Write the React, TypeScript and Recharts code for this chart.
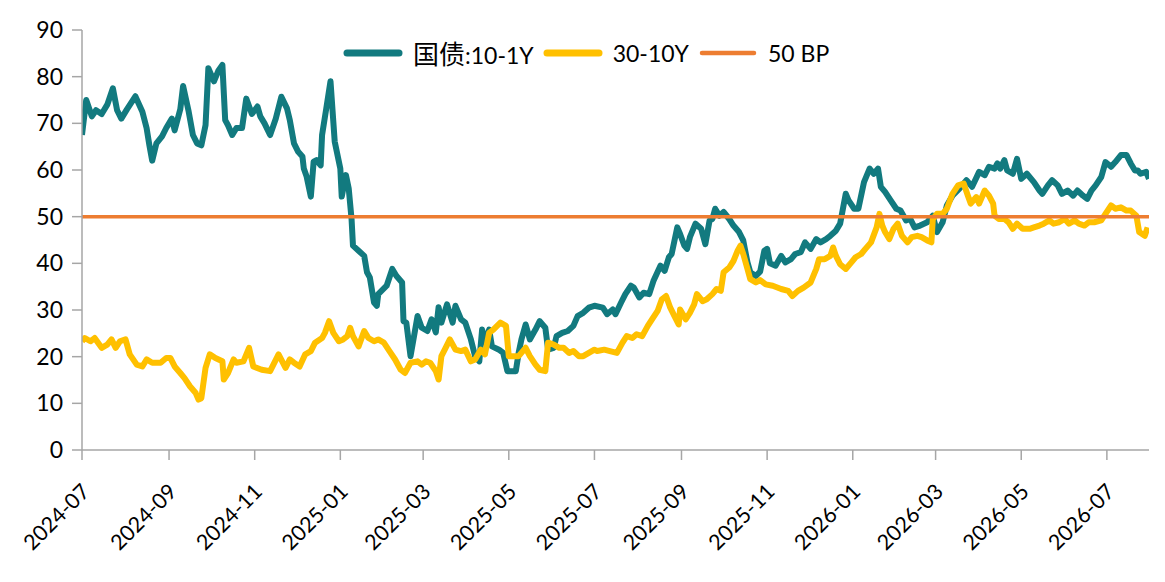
import React from "react";
import { LineChart, Line, XAxis, YAxis, Legend, ReferenceLine } from "recharts";

// 国债期限利差 (BP), values
const spread101: [string, number][] = [
  ["2024-07-01", 67.5], ["2024-07-04", 75], ["2024-07-08", 71.5], ["2024-07-11", 72.8], ["2024-07-15", 72],
  ["2024-07-19", 74], ["2024-07-23", 77.5], ["2024-07-26", 72.8], ["2024-07-29", 71], ["2024-08-02", 73],
  ["2024-08-08", 75.8], ["2024-08-13", 72.5], ["2024-08-16", 69], ["2024-08-18", 65.3], ["2024-08-20", 62],
  ["2024-08-23", 65.7], ["2024-08-27", 67.2], ["2024-08-30", 69], ["2024-09-03", 71], ["2024-09-05", 68.5],
  ["2024-09-09", 73], ["2024-09-11", 78], ["2024-09-15", 72.5], ["2024-09-18", 67.5], ["2024-09-21", 65.7],
  ["2024-09-24", 65.3], ["2024-09-27", 69.6], ["2024-09-29", 81.8], ["2024-10-03", 79], ["2024-10-06", 81.2],
  ["2024-10-09", 82.5], ["2024-10-11", 70.7], ["2024-10-13", 69.6], ["2024-10-16", 67.5], ["2024-10-19", 69],
  ["2024-10-23", 69], ["2024-10-26", 75.3], ["2024-10-30", 72], ["2024-11-03", 73.6], ["2024-11-05", 71.5],
  ["2024-11-08", 70], ["2024-11-12", 67.5], ["2024-11-16", 71], ["2024-11-20", 75.7], ["2024-11-24", 73.2],
  ["2024-11-26", 70.7], ["2024-11-29", 65.7], ["2024-12-02", 63.9], ["2024-12-05", 62.9], ["2024-12-06", 60.3],
  ["2024-12-08", 58.6], ["2024-12-11", 54.3], ["2024-12-13", 61.8], ["2024-12-15", 62.1], ["2024-12-18", 61],
  ["2024-12-19", 67.5], ["2024-12-22", 73.2], ["2024-12-25", 79], ["2024-12-28", 66.1], ["2025-01-01", 60.3],
  ["2025-01-02", 54.3], ["2025-01-05", 58.9], ["2025-01-07", 56], ["2025-01-09", 49.5], ["2025-01-10", 43.8],
  ["2025-01-14", 42.7], ["2025-01-18", 41.6], ["2025-01-20", 38.1], ["2025-01-22", 37], ["2025-01-25", 31.6],
  ["2025-01-27", 30.9], ["2025-01-28", 33.4], ["2025-02-03", 35.2], ["2025-02-07", 38.8], ["2025-02-10", 37.3],
  ["2025-02-14", 35.9], ["2025-02-15", 27.6], ["2025-02-17", 27.3], ["2025-02-20", 20.1], ["2025-02-25", 28.7],
  ["2025-02-28", 26.2], ["2025-03-04", 25.5], ["2025-03-07", 28], ["2025-03-10", 25.2], ["2025-03-12", 30.6],
  ["2025-03-14", 27.3], ["2025-03-18", 31.2], ["2025-03-22", 27.3], ["2025-03-24", 30.9], ["2025-03-28", 28],
  ["2025-03-31", 27.3], ["2025-04-04", 23.7], ["2025-04-07", 20.1], ["2025-04-10", 19], ["2025-04-12", 25.8],
  ["2025-04-14", 23], ["2025-04-17", 25.8], ["2025-04-19", 22.2], ["2025-04-24", 21.5], ["2025-04-27", 20.8],
  ["2025-04-30", 16.9], ["2025-05-06", 16.9], ["2025-05-08", 20.8], ["2025-05-10", 23.7], ["2025-05-13", 26.9],
  ["2025-05-16", 23.7], ["2025-05-20", 25.8], ["2025-05-23", 27.6], ["2025-05-27", 26.2], ["2025-05-29", 21.5],
  ["2025-06-02", 21.9], ["2025-06-04", 24.4], ["2025-06-08", 25.1], ["2025-06-12", 25.5], ["2025-06-16", 26.6],
  ["2025-06-19", 28.7], ["2025-06-23", 29.4], ["2025-06-27", 30.5], ["2025-07-01", 30.9], ["2025-07-07", 30.5],
  ["2025-07-10", 29.1], ["2025-07-14", 30.1], ["2025-07-16", 29.1], ["2025-07-20", 31.6], ["2025-07-23", 33.4],
  ["2025-07-27", 35.2], ["2025-07-29", 34.8], ["2025-08-02", 32.7], ["2025-08-05", 33.7], ["2025-08-09", 33.4],
  ["2025-08-12", 36.2], ["2025-08-17", 39.5], ["2025-08-20", 38.4], ["2025-08-23", 41.3], ["2025-08-25", 42],
  ["2025-08-29", 47.7], ["2025-08-31", 46.3], ["2025-09-03", 43.8], ["2025-09-05", 43.1], ["2025-09-07", 45.6],
  ["2025-09-11", 48.5], ["2025-09-15", 47.4], ["2025-09-18", 44.1], ["2025-09-21", 49.2], ["2025-09-23", 49.5],
  ["2025-09-25", 51.7], ["2025-09-28", 50.2], ["2025-10-01", 51], ["2025-10-05", 49.5], ["2025-10-08", 48.1],
  ["2025-10-12", 46.7], ["2025-10-15", 44.9], ["2025-10-18", 40.2], ["2025-10-20", 38.1], ["2025-10-24", 37.3],
  ["2025-10-27", 38.2], ["2025-10-30", 42.7], ["2025-11-01", 43.1], ["2025-11-03", 40], ["2025-11-07", 39.5],
  ["2025-11-11", 41.6], ["2025-11-14", 40.2], ["2025-11-18", 40.9], ["2025-11-21", 42], ["2025-11-25", 42.4],
  ["2025-11-28", 44.5], ["2025-12-02", 43.1], ["2025-12-06", 45.2], ["2025-12-09", 44.5], ["2025-12-13", 45.2],
  ["2025-12-16", 45.9], ["2025-12-20", 47], ["2025-12-23", 48.5], ["2025-12-27", 54.9], ["2025-12-29", 53.5],
  ["2026-01-02", 51.7], ["2026-01-05", 51.7], ["2026-01-09", 57.4], ["2026-01-13", 60.3], ["2026-01-16", 59.2],
  ["2026-01-19", 60.3], ["2026-01-21", 56.4], ["2026-01-24", 55.3], ["2026-01-28", 53.5], ["2026-02-01", 51.7],
  ["2026-02-04", 51.3], ["2026-02-08", 49.2], ["2026-02-11", 49.5], ["2026-02-14", 47.7], ["2026-02-18", 48.1],
  ["2026-02-23", 48.8], ["2026-02-27", 50.2], ["2026-03-02", 46.7], ["2026-03-06", 48.8], ["2026-03-09", 52.4],
  ["2026-03-13", 54.5], ["2026-03-18", 56], ["2026-03-23", 57.8], ["2026-03-27", 56.4], ["2026-04-01", 59.6],
  ["2026-04-05", 58.9], ["2026-04-08", 60.7], ["2026-04-12", 60.3], ["2026-04-14", 61.4], ["2026-04-16", 60.3],
  ["2026-04-19", 62.1], ["2026-04-21", 59.9], ["2026-04-25", 59.2], ["2026-04-28", 62.4], ["2026-05-01", 58.1],
  ["2026-05-05", 59.2], ["2026-05-10", 57.4], ["2026-05-14", 55.6], ["2026-05-16", 54.9], ["2026-05-20", 56.7],
  ["2026-05-23", 57.8], ["2026-05-27", 56.7], ["2026-05-30", 54.9], ["2026-06-03", 55.6], ["2026-06-07", 54.5],
  ["2026-06-10", 55.6], ["2026-06-14", 54.5], ["2026-06-17", 53.8], ["2026-06-20", 55.6], ["2026-06-23", 56.7],
  ["2026-06-27", 58.5], ["2026-06-30", 61.7], ["2026-07-04", 60.7], ["2026-07-07", 61.7], ["2026-07-11", 63.2],
  ["2026-07-15", 63.2], ["2026-07-18", 61.4], ["2026-07-21", 59.9], ["2026-07-23", 59.9], ["2026-07-25", 59.2],
  ["2026-07-29", 59.6], ["2026-07-31", 58.1],
];

const spread3010: [string, number][] = [
  ["2024-07-01", 23.3], ["2024-07-03", 24], ["2024-07-07", 23.3], ["2024-07-10", 24], ["2024-07-15", 21.9],
  ["2024-07-19", 22.6], ["2024-07-22", 23.7], ["2024-07-25", 21.9], ["2024-07-28", 23.3], ["2024-08-01", 23.7],
  ["2024-08-04", 20.5], ["2024-08-09", 18.3], ["2024-08-13", 17.9], ["2024-08-16", 19.4], ["2024-08-20", 18.7],
  ["2024-08-26", 18.7], ["2024-08-30", 19.7], ["2024-09-02", 19.7], ["2024-09-05", 17.9], ["2024-09-09", 16.5],
  ["2024-09-12", 15.4], ["2024-09-16", 13.6], ["2024-09-20", 12.2], ["2024-09-22", 10.8], ["2024-09-24", 11.1],
  ["2024-09-27", 17.6], ["2024-09-30", 20.5], ["2024-10-04", 19.7], ["2024-10-09", 19], ["2024-10-10", 15.1],
  ["2024-10-13", 16.5], ["2024-10-17", 19.4], ["2024-10-19", 18.7], ["2024-10-24", 19], ["2024-10-28", 21.9],
  ["2024-10-31", 17.9], ["2024-11-06", 17.2], ["2024-11-12", 16.9], ["2024-11-18", 20.5], ["2024-11-23", 17.6],
  ["2024-11-26", 19.4], ["2024-11-29", 18.7], ["2024-12-03", 17.9], ["2024-12-07", 20.5], ["2024-12-11", 21.2],
  ["2024-12-14", 23], ["2024-12-19", 24], ["2024-12-21", 25.1], ["2024-12-24", 27.6], ["2024-12-27", 25.1],
  ["2024-12-31", 23.3], ["2025-01-03", 23.7], ["2025-01-06", 24.4], ["2025-01-08", 26.2], ["2025-01-10", 24.4],
  ["2025-01-14", 22.2], ["2025-01-18", 25.5], ["2025-01-21", 24], ["2025-01-25", 23.3], ["2025-01-28", 23.7],
  ["2025-02-01", 23], ["2025-02-05", 21.2], ["2025-02-09", 19.4], ["2025-02-13", 17.2], ["2025-02-16", 16.5],
  ["2025-02-20", 18.7], ["2025-02-25", 19], ["2025-02-28", 18.3], ["2025-03-03", 19], ["2025-03-06", 18.7],
  ["2025-03-10", 16.9], ["2025-03-12", 15.1], ["2025-03-14", 20.1], ["2025-03-17", 21.9], ["2025-03-20", 23.7],
  ["2025-03-24", 21.5], ["2025-03-28", 21.2], ["2025-03-31", 21.5], ["2025-04-04", 19], ["2025-04-07", 19.4],
  ["2025-04-11", 21.5], ["2025-04-14", 20.5], ["2025-04-17", 25.1], ["2025-04-20", 25.8], ["2025-04-25", 27.3],
  ["2025-04-29", 26.6], ["2025-05-01", 20.1], ["2025-05-05", 20.1], ["2025-05-08", 20.1], ["2025-05-13", 21.9],
  ["2025-05-16", 20.1], ["2025-05-20", 18.3], ["2025-05-23", 17.2], ["2025-05-27", 16.9], ["2025-05-29", 23],
  ["2025-06-02", 22.6], ["2025-06-06", 21.9], ["2025-06-09", 21.9], ["2025-06-13", 20.8], ["2025-06-16", 21.2],
  ["2025-06-20", 20.1], ["2025-06-23", 20.1], ["2025-06-27", 20.8], ["2025-07-01", 21.5], ["2025-07-03", 21.2],
  ["2025-07-08", 21.5], ["2025-07-12", 21.2], ["2025-07-17", 20.8], ["2025-07-21", 23], ["2025-07-24", 24.4],
  ["2025-07-28", 24], ["2025-07-31", 24.8], ["2025-08-04", 24.4], ["2025-08-08", 26.6], ["2025-08-11", 28],
  ["2025-08-15", 29.8], ["2025-08-18", 32.3], ["2025-08-21", 33], ["2025-08-24", 30.5], ["2025-08-27", 28.7],
  ["2025-08-30", 26.9], ["2025-08-31", 30.1], ["2025-09-04", 28], ["2025-09-07", 29.4], ["2025-09-10", 31.2],
  ["2025-09-12", 33.4], ["2025-09-16", 31.9], ["2025-09-19", 32.3], ["2025-09-23", 33.4], ["2025-09-26", 34.5],
  ["2025-09-29", 34.1], ["2025-10-01", 38.1], ["2025-10-05", 39.1], ["2025-10-08", 40.5], ["2025-10-11", 42.7],
  ["2025-10-13", 43.8], ["2025-10-15", 42], ["2025-10-18", 38.8], ["2025-10-20", 36.6], ["2025-10-24", 35.9],
  ["2025-10-27", 36.4], ["2025-10-31", 35.5], ["2025-11-05", 35.2], ["2025-11-11", 34.5], ["2025-11-16", 34.1],
  ["2025-11-19", 33], ["2025-11-23", 34.1], ["2025-11-27", 34.8], ["2025-12-02", 35.9], ["2025-12-06", 38.8],
  ["2025-12-08", 40.9], ["2025-12-12", 40.9], ["2025-12-16", 41.6], ["2025-12-18", 43.4], ["2025-12-20", 41.6],
  ["2025-12-23", 39.8], ["2025-12-27", 38.8], ["2025-12-31", 40.2], ["2026-01-03", 41.3], ["2026-01-07", 42],
  ["2026-01-10", 43.1], ["2026-01-14", 44.5], ["2026-01-18", 47.7], ["2026-01-20", 50.6], ["2026-01-22", 48.1],
  ["2026-01-24", 46.7], ["2026-01-27", 45.2], ["2026-01-30", 47.4], ["2026-02-02", 48.5], ["2026-02-05", 45.9],
  ["2026-02-09", 44.5], ["2026-02-12", 45.6], ["2026-02-16", 45.9], ["2026-02-19", 45.6], ["2026-02-23", 44.9],
  ["2026-02-26", 44.5], ["2026-02-27", 49.5], ["2026-03-02", 50.6], ["2026-03-06", 50.6], ["2026-03-09", 51.7],
  ["2026-03-13", 54.9], ["2026-03-17", 56.7], ["2026-03-21", 57.1], ["2026-03-24", 54.5], ["2026-03-26", 52.8],
  ["2026-03-30", 54.2], ["2026-04-01", 52.8], ["2026-04-05", 55.6], ["2026-04-08", 54.5], ["2026-04-11", 52.8],
  ["2026-04-12", 50.2], ["2026-04-15", 49.5], ["2026-04-19", 49.5], ["2026-04-22", 48.8], ["2026-04-25", 47.4],
  ["2026-04-28", 48.5], ["2026-05-02", 47.4], ["2026-05-07", 47.4], ["2026-05-10", 47.7], ["2026-05-14", 48.1],
  ["2026-05-17", 48.5], ["2026-05-21", 49.2], ["2026-05-24", 48.5], ["2026-05-28", 48.8], ["2026-06-01", 49.5],
  ["2026-06-04", 48.5], ["2026-06-08", 49.2], ["2026-06-11", 48.5], ["2026-06-15", 48.1], ["2026-06-18", 48.8],
  ["2026-06-22", 48.8], ["2026-06-27", 49.2], ["2026-06-30", 50.6], ["2026-07-04", 52.4], ["2026-07-07", 51.7],
  ["2026-07-11", 52], ["2026-07-15", 51.3], ["2026-07-18", 51.3], ["2026-07-22", 50.2], ["2026-07-24", 46.7],
  ["2026-07-28", 45.9], ["2026-07-30", 47.7],
];

const thresholdBP = 50;
const xStart = "2024-07-01";
const xEnd = "2026-07-31";
const xTickLabels = [
  "2024-07", "2024-09", "2024-11", "2025-01", "2025-03", "2025-05", "2025-07",
  "2025-09", "2025-11", "2026-01", "2026-03", "2026-05", "2026-07",
];
const yTicks = [0, 10, 20, 30, 40, 50, 60, 70, 80, 90];

const series = [
  { key: "s101", name: "国债:10-1Y", color: "#127A7F", width: 6 },
  { key: "s3010", name: "30-10Y", color: "#FFC000", width: 6 },
  { key: "bp", name: "50 BP", color: "#ED7D31", width: 3.5 },
];

const FONT = "Lato, 'Noto Sans CJK SC', sans-serif";
const AXIS = "#A6A6A6";

const toPoints = (rows: [string, number][]) =>
  rows.map(([d, v]) => ({ t: Date.parse(d), v }));

const XTick = (props: any) => {
  const { x, y, payload } = props;
  const d = new Date(payload.value);
  const label = `${d.getUTCFullYear()}-${String(d.getUTCMonth() + 1).padStart(2, "0")}`;
  return (
    <g transform={`translate(${x + 9},${y + 31})`}>
      <text transform="rotate(-45)" textAnchor="end" fill="#000" fontSize={21.5} fontFamily={FONT}>
        {label}
      </text>
    </g>
  );
};

// CJK glyphs in the reference legend are drawn a little larger than the Latin ones
const legendLabel = (name: string) =>
  name.split(/([\u4e00-\u9fff]+)/).map((part, i) =>
    /[\u4e00-\u9fff]/.test(part) ? (
      <span key={i} style={{ fontSize: 26, fontFamily: "'Noto Sans CJK SC', sans-serif" }}>{part}</span>
    ) : (
      <span key={i}>{part}</span>
    )
  );

const LegendBox = () => (
  <div style={{ display: "flex", alignItems: "center", fontFamily: FONT, fontSize: 23, color: "#000", whiteSpace: "nowrap" }}>
    {series.map((s) => (
      <div key={s.key} style={{ display: "flex", alignItems: "center", marginRight: 9 }}>
        <svg width={60} height={10} style={{ marginRight: 10 }}>
          <line x1={4} y1={5} x2={56} y2={5} stroke={s.color} strokeWidth={s.width + 1} strokeLinecap="round" />
        </svg>
        <span>{legendLabel(s.name)}</span>
      </div>
    ))}
  </div>
);

export default function App() {
  const d101 = toPoints(spread101);
  const d3010 = toPoints(spread3010);
  const tickValues = xTickLabels.map((m) => Date.parse(`${m}-01`));

  return (
    <div style={{ width: 1157, height: 574, background: "#fff" }}>
      <LineChart width={1157} height={574} margin={{ top: 22, right: 16, left: 4, bottom: 12 }}>
        <XAxis
          dataKey="t"
          type="number"
          scale="linear"
          domain={[Date.parse(xStart), Date.parse(xEnd)]}
          ticks={tickValues}
          allowDataOverflow
          interval={0}
          height={120}
          tickSize={10}
          stroke={AXIS}
          strokeWidth={1.5}
          tick={<XTick />}
        />
        <YAxis
          type="number"
          domain={[0, 90]}
          ticks={yTicks}
          interval={0}
          width={70}
          tickSize={10}
          tickMargin={9}
          stroke={AXIS}
          strokeWidth={1.5}
          tick={{ fill: "#000", fontSize: 23, fontFamily: FONT }}
        />
        <Line
          data={d101}
          dataKey="v"
          name={series[0].name}
          type="linear"
          stroke={series[0].color}
          strokeWidth={series[0].width}
          strokeLinejoin="round"
          dot={false}
          isAnimationActive={false}
        />
        <Line
          data={d3010}
          dataKey="v"
          name={series[1].name}
          type="linear"
          stroke={series[1].color}
          strokeWidth={series[1].width}
          strokeLinejoin="round"
          dot={false}
          isAnimationActive={false}
        />
        <ReferenceLine y={thresholdBP} stroke={series[2].color} strokeWidth={series[2].width} />
        <Legend
          layout="horizontal"
          verticalAlign="middle"
          align="center"
          wrapperStyle={{ top: 26, left: 335, width: "auto" }}
          content={() => <LegendBox />}
        />
      </LineChart>
    </div>
  );
}
